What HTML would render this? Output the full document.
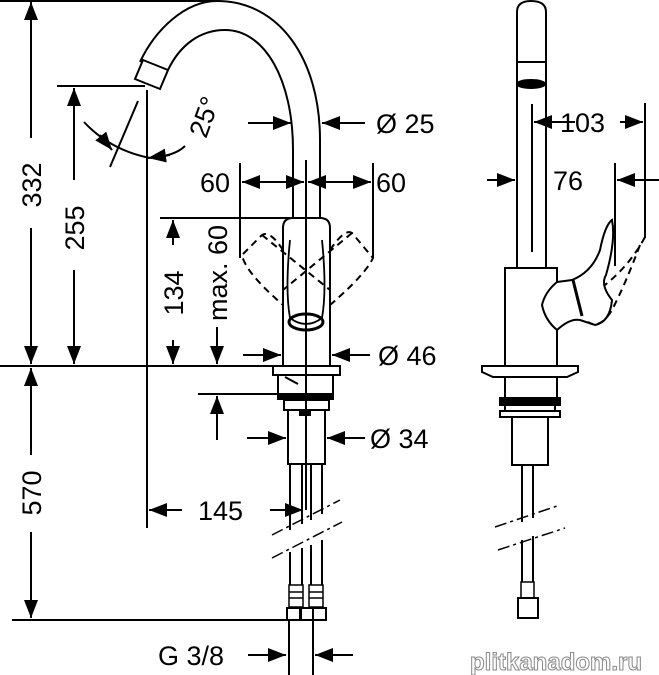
<!DOCTYPE html>
<html><head><meta charset="utf-8"><style>
html,body{margin:0;padding:0;background:#fff}
svg{display:block}
text{font-family:"Liberation Sans",sans-serif;font-size:27px;fill:#000}
</style></head><body>
<svg width="659" height="675" viewBox="0 0 659 675" xmlns="http://www.w3.org/2000/svg">
<defs>
<marker id="a" markerUnits="userSpaceOnUse" markerWidth="20" markerHeight="16" refX="18" refY="7" orient="auto">
<path d="M0,0 L18,7 L0,14 Z" fill="#000"/>
</marker>
</defs>
<g stroke="#000" stroke-width="2" fill="none">
<line x1="0" y1="1" x2="215" y2="1"/>
<line x1="0" y1="366" x2="300" y2="366"/>
<line x1="57" y1="86" x2="145" y2="86"/>
<line x1="12" y1="620" x2="292" y2="620"/>
<line x1="160" y1="218" x2="290" y2="218"/>
<line x1="198" y1="394" x2="280" y2="394"/>
<line x1="147" y1="90" x2="147" y2="528"/>
<line x1="240" y1="163" x2="240" y2="258"/>
<line x1="373" y1="163" x2="373" y2="258"/>
<line x1="306" y1="160" x2="306" y2="510"/>
<line x1="31" y1="138" x2="31" y2="2" marker-end="url(#a)"/>
<line x1="31" y1="228" x2="31" y2="364" marker-end="url(#a)"/>
<line x1="74" y1="180" x2="74" y2="88" marker-end="url(#a)"/>
<line x1="74" y1="270" x2="74" y2="364" marker-end="url(#a)"/>
<line x1="31" y1="455" x2="31" y2="368" marker-end="url(#a)"/>
<line x1="31" y1="532" x2="31" y2="618" marker-end="url(#a)"/>
<line x1="173" y1="245" x2="173" y2="220" marker-end="url(#a)"/>
<line x1="173" y1="340" x2="173" y2="364" marker-end="url(#a)"/>
<line x1="217" y1="327" x2="217" y2="364" marker-end="url(#a)"/>
<line x1="217" y1="440" x2="217" y2="396" marker-end="url(#a)"/>
<line x1="275" y1="182" x2="242" y2="182" marker-end="url(#a)"/>
<line x1="270" y1="182" x2="304" y2="182" marker-end="url(#a)"/>
<line x1="340" y1="182" x2="308" y2="182" marker-end="url(#a)"/>
<line x1="340" y1="182" x2="371" y2="182" marker-end="url(#a)"/>
<line x1="248" y1="123" x2="291" y2="123" marker-end="url(#a)"/>
<line x1="365" y1="123" x2="322" y2="123" marker-end="url(#a)"/>
<line x1="243" y1="355" x2="281" y2="355" marker-end="url(#a)"/>
<line x1="370" y1="355" x2="332" y2="355" marker-end="url(#a)"/>
<line x1="247" y1="438" x2="286" y2="438" marker-end="url(#a)"/>
<line x1="365" y1="438" x2="327" y2="438" marker-end="url(#a)"/>
<line x1="182" y1="510" x2="149" y2="510" marker-end="url(#a)"/>
<line x1="270" y1="510" x2="303" y2="510" marker-end="url(#a)"/>
<line x1="248" y1="655" x2="286" y2="655" marker-end="url(#a)"/>
<line x1="353" y1="655" x2="315" y2="655" marker-end="url(#a)"/>
<path d="M84,122 Q110,150 150,158"/>
<line x1="100" y1="135" x2="112" y2="150" marker-end="url(#a)"/>
<path d="M185,146 Q175,156 150,158"/>
<line x1="170" y1="155" x2="148" y2="158" marker-end="url(#a)"/>
<line x1="138" y1="101" x2="110" y2="167"/>
<path d="M320,218 L320,140 C320,60 280,1 217,1 C185,1 155,30 140,62"/>
<path d="M293,218 L293,150 C293,80 265,30 225,30 C200,30 180,45 168,70"/>
<polygon points="143,60 168,70 160,89 135,79" fill="#fff"/>
<path d="M283,366 L283,228 Q283,218 293,218 L320,218 Q330,218 330,228 L330,366"/>
<path d="M290,240 Q285,290 290,318 Q306,330 322,318 Q327,290 322,240" stroke-width="1.8"/>
<ellipse cx="306" cy="322" rx="17" ry="8" stroke-width="3"/>
<g stroke-dasharray="7,5">
<path d="M283,250 Q270,230 262,235 L242,255 Q245,272 283,305"/>
<path d="M330,250 Q345,228 352,233 L373,258 Q365,275 330,305"/>
<path d="M262,235 L330,290"/><path d="M352,233 L283,290"/>
</g>
<rect x="273" y="366" width="67" height="9"/>
<rect x="278" y="375" width="55" height="20"/>
<path d="M285,377 L298,384"/>
<rect x="278" y="394" width="55" height="5" fill="#000"/>
<rect x="284" y="400" width="45" height="10"/>
<rect x="288" y="410" width="37" height="54"/>
<rect x="300" y="410" width="10" height="5" fill="#000"/>
<path d="M290,464 V530 M302,464 V524 M311,464 V520 M322,464 V514"/>
<path d="M290,552 V585 M302,548 V585 M311,545 V585 M322,540 V585"/>
<g stroke-dasharray="12,4,3,4" stroke-width="1.5"><line x1="272" y1="535" x2="340" y2="500"/><line x1="272" y1="558" x2="342" y2="522"/></g>
<rect x="289" y="585" width="14" height="22" stroke-width="1.5"/>
<rect x="309" y="585" width="14" height="22" stroke-width="1.5"/>
<path d="M289,592 H303 M289,598 H303 M309,592 H323 M309,598 H323" stroke-width="1.5"/>
<rect x="287" y="608" width="14" height="12"/>
<rect x="300" y="608" width="13" height="12"/>
<rect x="313" y="608" width="13" height="12"/>
<path d="M289,620 V675 M313,620 V675"/>

<path d="M517,268 V12 Q517,1 531,1 Q546,1 546,12 V268"/>
<path d="M517,62 H546"/>
<ellipse cx="531" cy="84" rx="14" ry="4" fill="#000"/>
<line x1="532" y1="104" x2="532" y2="252"/>
<line x1="645" y1="103" x2="645" y2="238"/>
<line x1="615" y1="163" x2="615" y2="266"/>
<line x1="575" y1="122" x2="534" y2="122" marker-end="url(#a)"/>
<line x1="620" y1="122" x2="643" y2="122" marker-end="url(#a)"/>
<line x1="487" y1="180" x2="515" y2="180" marker-end="url(#a)"/>
<line x1="659" y1="180" x2="617" y2="180" marker-end="url(#a)"/>
<path d="M505,366 V268 H557 V282 Q545,292 542,305 Q545,320 557,330 V366"/>
<path d="M557,282 L572,280 Q592,272 600,250 Q605,225 612,220 Q616,240 606,275 Q600,285 612,300 Q610,322 595,325 L580,320 Q570,318 557,330"/>
<path d="M573,280 L582,316" stroke-width="3"/>
<g stroke-dasharray="7,5"><path d="M645,237 Q630,265 605,285 M640,245 Q625,285 612,310 Q600,330 588,322"/></g>
<path d="M482,366 H578 V372 L567,377 H493 L482,372 Z"/>
<path d="M505,377 V398 M557,377 V398"/>
<rect x="500" y="398" width="60" height="7" fill="#000"/>
<path d="M505,405 V411 M555,405 V411"/>
<rect x="500" y="411" width="60" height="6"/>
<rect x="512" y="417" width="36" height="48"/>
<path d="M522,465 V522 M533,465 V518 M522,540 V582 M533,536 V582"/>
<g stroke-dasharray="12,4,3,4" stroke-width="1.5"><line x1="495" y1="527" x2="560" y2="505"/><line x1="498" y1="550" x2="565" y2="528"/></g>
<rect x="521" y="582" width="13" height="16" stroke-width="1.5"/>
<rect x="518" y="598" width="20" height="20"/>
</g>
<text x="200" y="192">60</text>
<text x="376" y="192">60</text>
<text x="376" y="133">Ø 25</text>
<text x="378" y="365">Ø 46</text>
<text x="370" y="448">Ø 34</text>
<text x="198" y="520">145</text>
<text x="158" y="665">G 3/8</text>
<text transform="translate(41,185) rotate(-90)" text-anchor="middle">332</text>
<text transform="translate(84,228) rotate(-90)" text-anchor="middle">255</text>
<text transform="translate(41,493) rotate(-90)" text-anchor="middle">570</text>
<text transform="translate(183,293) rotate(-90)" text-anchor="middle">134</text>
<text transform="translate(227,273) rotate(-90)" text-anchor="middle">max. 60</text>
<text transform="translate(213,120) rotate(-70)" text-anchor="middle">25°</text>
<text x="560" y="132">103</text>
<text x="553" y="190">76</text>
<text x="470" y="670" style="font-size:24px;font-weight:bold;fill:#fff;stroke:#888;stroke-width:1">plitkanadom.ru</text>
</svg>
</body></html>
